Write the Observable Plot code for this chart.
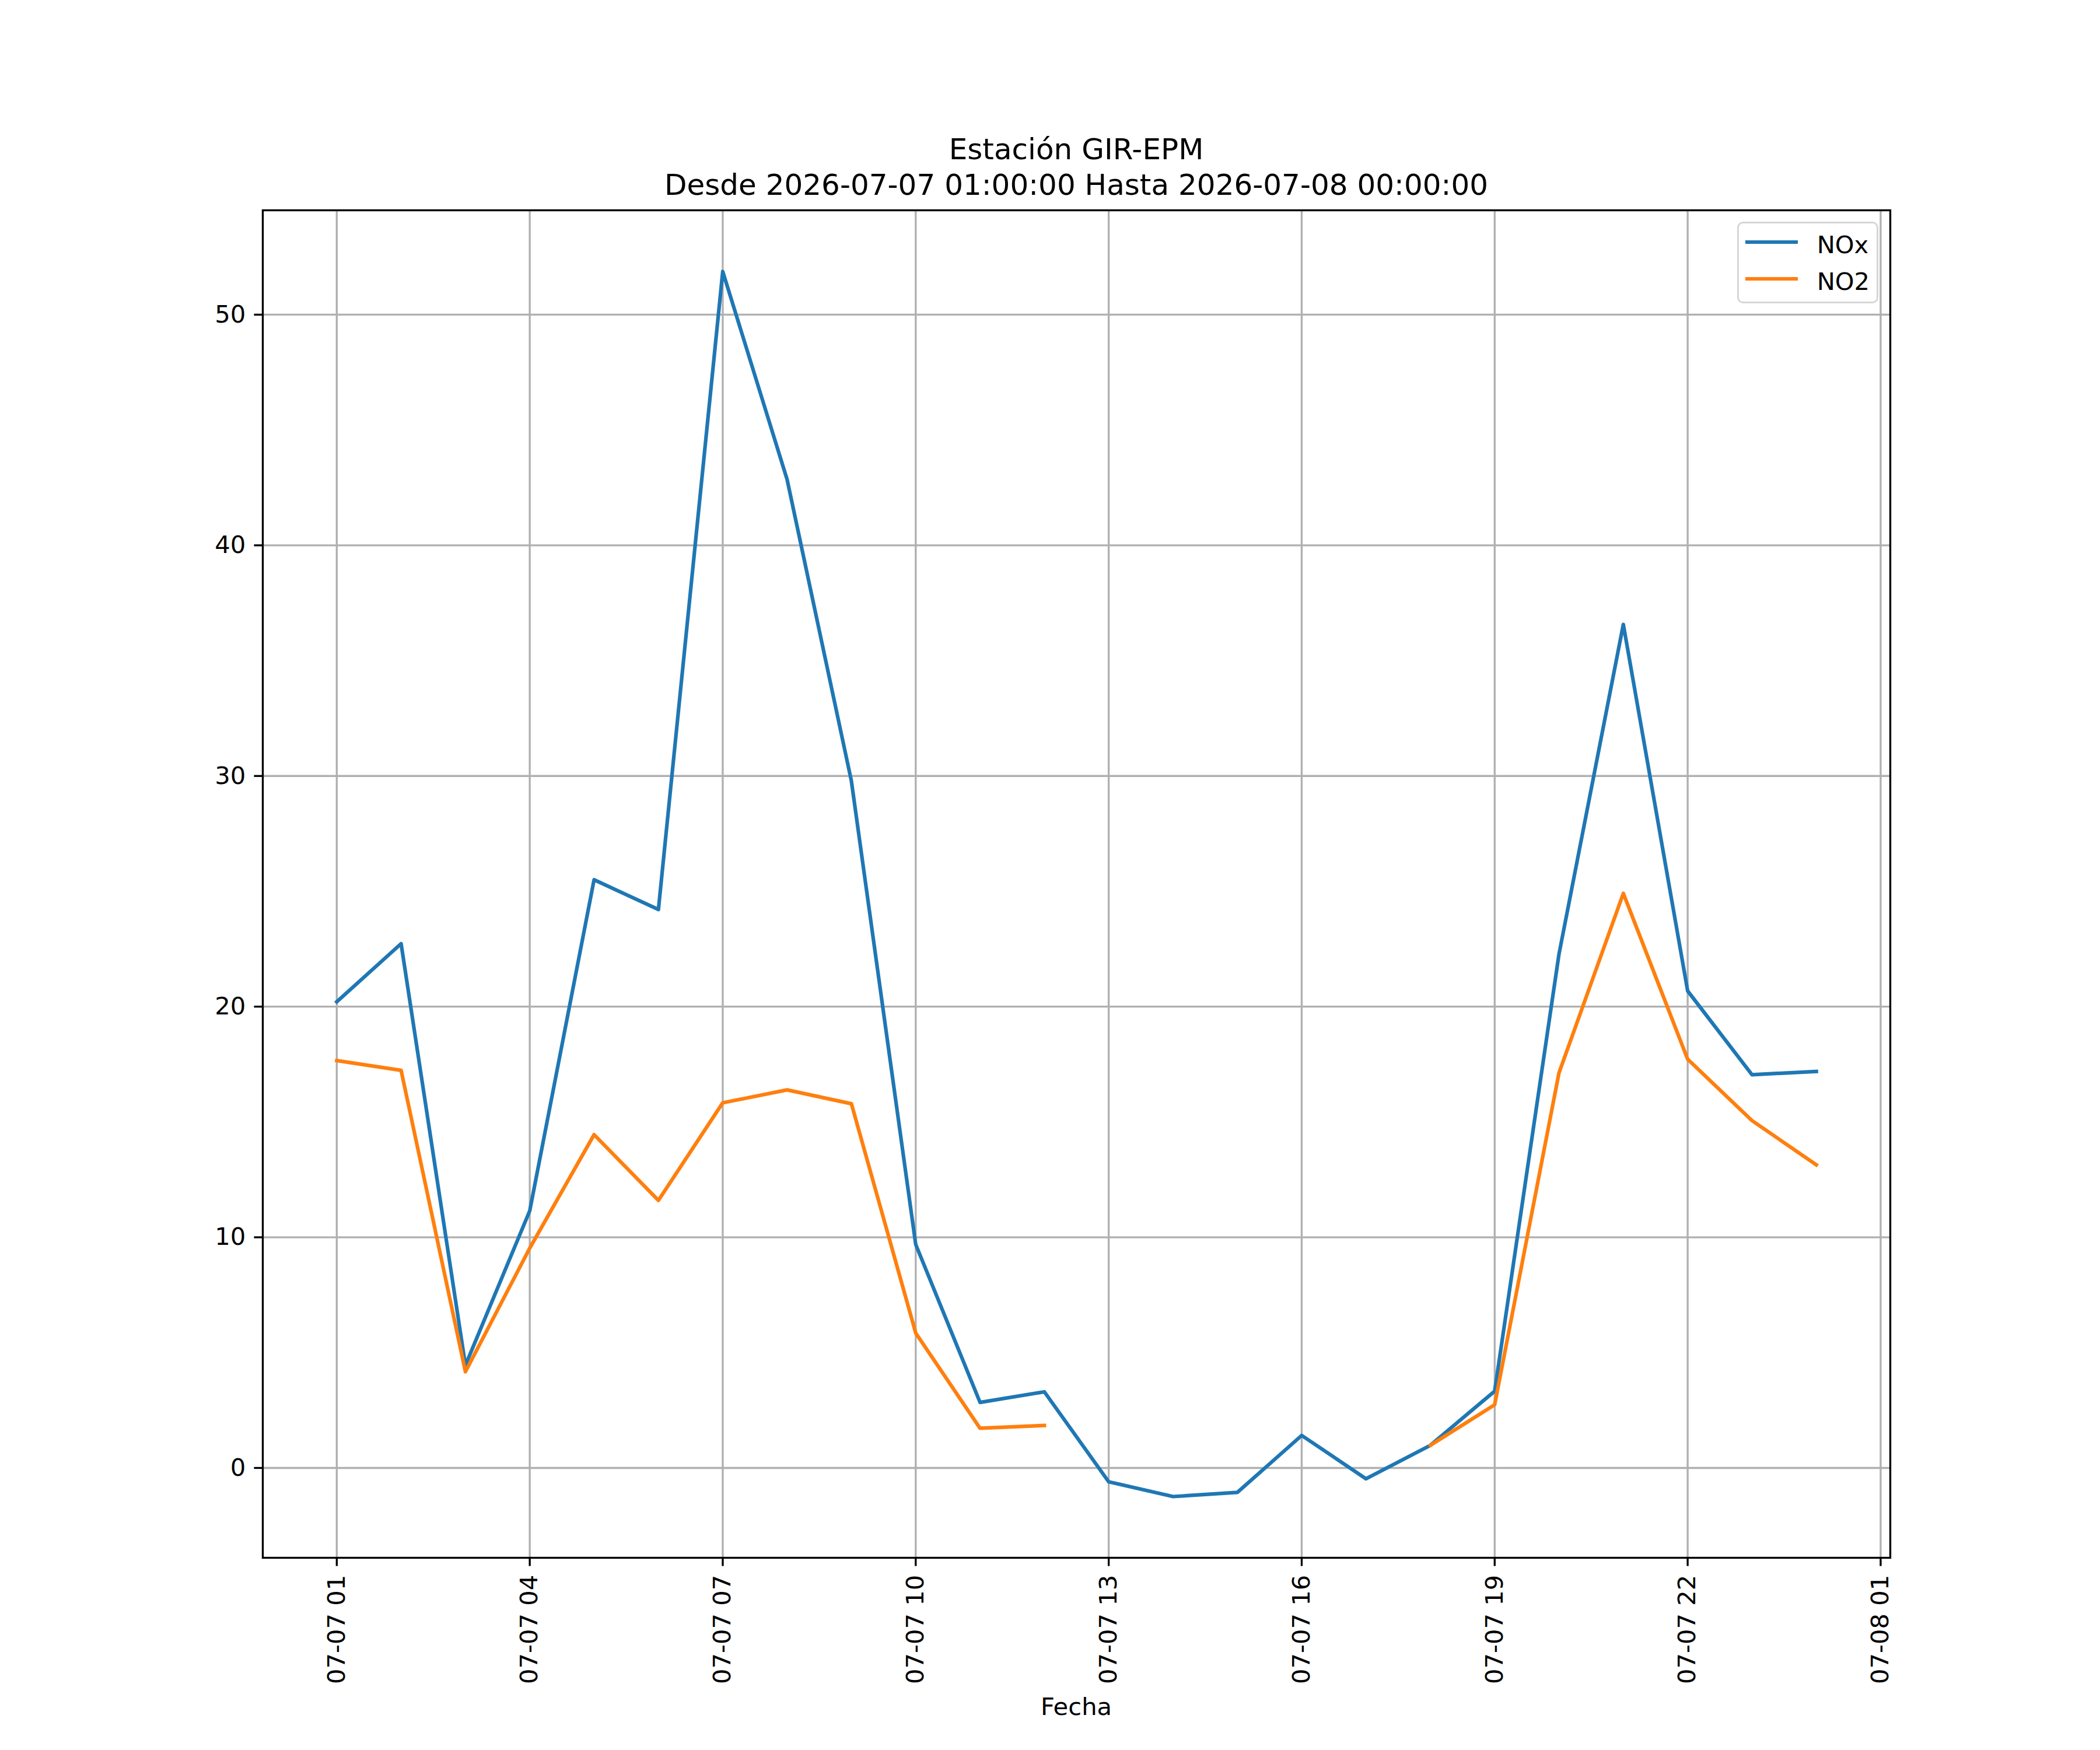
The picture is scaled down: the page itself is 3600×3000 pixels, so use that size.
<!DOCTYPE html>
<html>
<head>
<meta charset="utf-8">
<script src="https://cdn.jsdelivr.net/npm/d3@7"></script>
<script src="https://cdn.jsdelivr.net/npm/@observablehq/plot@0.6"></script>
<style>
html, body { margin: 0; padding: 0; background: #fff; }
body { position: relative; width: 3600px; height: 3000px; font-family: "DejaVu Sans", sans-serif; color: #000; overflow: hidden; }
#title { box-sizing: border-box; height: 348px; padding-top: 226px; margin-left: 450px; width: 2790px; text-align: center; font-size: 50px; line-height: 61px; white-space: pre; }
#chart svg { display: block; }
.abs { position: absolute; }
#xlabel { left: 450px; width: 2790px; top: 2896px; text-align: center; font-size: 41.67px; line-height: 60px; }
#legend { box-sizing: border-box; left: 2978px; top: 380px; width: 242px; height: 140px; border: 3.33px solid #d6d6d6; border-radius: 10px; background: rgba(255,255,255,0.8); }
.lg-line { position: absolute; height: 6.25px; width: 90px; }
.lg-text { position: absolute; font-size: 41.67px; line-height: 60px; height: 60px; white-space: pre; }
</style>
</head>
<body>
<div id="title"></div>
<div id="chart"></div>
<div id="xlabel" class="abs"></div>
<div id="legend" class="abs"></div>
<script>
// ---- data ----
const titleLines = ["Estación GIR-EPM", "Desde 2026-07-07 01:00:00 Hasta 2026-07-08 00:00:00"];
const xLabel = "Fecha";
const fechas = [
  "2026-07-07T01:00:00Z", "2026-07-07T02:00:00Z", "2026-07-07T03:00:00Z", "2026-07-07T04:00:00Z",
  "2026-07-07T05:00:00Z", "2026-07-07T06:00:00Z", "2026-07-07T07:00:00Z", "2026-07-07T08:00:00Z",
  "2026-07-07T09:00:00Z", "2026-07-07T10:00:00Z", "2026-07-07T11:00:00Z", "2026-07-07T12:00:00Z",
  "2026-07-07T13:00:00Z", "2026-07-07T14:00:00Z", "2026-07-07T15:00:00Z", "2026-07-07T16:00:00Z",
  "2026-07-07T17:00:00Z", "2026-07-07T18:00:00Z", "2026-07-07T19:00:00Z", "2026-07-07T20:00:00Z",
  "2026-07-07T21:00:00Z", "2026-07-07T22:00:00Z", "2026-07-07T23:00:00Z", "2026-07-08T00:00:00Z"
];
const nox = [20.21, 22.73, 4.45, 11.15, 25.50, 24.21, 51.87, 42.86, 29.78, 9.69, 2.84, 3.30,
             -0.60, -1.24, -1.06, 1.41, -0.47, 0.98, 3.33, 22.28, 36.57, 20.68, 17.05, 17.19];
const no2 = [17.66, 17.24, 4.17, 9.53, 14.45, 11.60, 15.83, 16.39, 15.79, 5.85, 1.72, 1.84,
             null, null, null, null, null, 0.98, 2.74, 17.13, 24.91, 17.72, 15.06, 13.14];
const seriesNames = ["NOx", "NO2"];
const seriesColors = ["#1f77b4", "#ff7f0e"];
const xTicks = [
  "2026-07-07T01:00:00Z", "2026-07-07T04:00:00Z", "2026-07-07T07:00:00Z", "2026-07-07T10:00:00Z",
  "2026-07-07T13:00:00Z", "2026-07-07T16:00:00Z", "2026-07-07T19:00:00Z", "2026-07-07T22:00:00Z",
  "2026-07-08T01:00:00Z"
];
const yTicks = [0, 10, 20, 30, 40, 50];

// ---- build ----
const seriesValues = [nox, no2];
const rows = [];
seriesNames.forEach((name, s) => {
  fechas.forEach((f, i) => rows.push({fecha: new Date(f), valor: seriesValues[s][i], serie: name}));
});
const tickDates = xTicks.map(t => new Date(t));

const x0 = new Date(fechas[0]), x1 = new Date(fechas[fechas.length - 1]);
const span = x1 - x0;
const xDomain = [new Date(+x0 - 0.05 * span), new Date(+x1 + 0.05 * span)];
const allY = rows.map(r => r.valor).filter(v => v != null);
const yMin = d3.min(allY), yMax = d3.max(allY), yr = yMax - yMin;
const yDomain = [yMin - 0.05 * yr, yMax + 0.05 * yr];

const LW = 3.33, TICK = 14.58, FS = 41.67;

const chart = Plot.plot({
  width: 3600,
  height: 2652,
  marginLeft: 450,
  marginRight: 360,
  marginTop: 12,
  marginBottom: 330,
  style: {fontFamily: '"DejaVu Sans", sans-serif', fontSize: FS + "px", color: "black", background: "white", overflow: "visible"},
  x: {type: "utc", domain: xDomain},
  y: {type: "linear", domain: yDomain},
  color: {domain: seriesNames, range: seriesColors},
  marks: [
    Plot.gridX(tickDates, {stroke: "#b0b0b0", strokeOpacity: 1, strokeWidth: LW}),
    Plot.gridY(yTicks, {stroke: "#b0b0b0", strokeOpacity: 1, strokeWidth: LW}),
    Plot.line(rows, {x: "fecha", y: "valor", z: "serie", stroke: "serie", strokeWidth: 6.25, strokeLinejoin: "round", strokeLinecap: "square"}),
    Plot.frame({stroke: "black", strokeWidth: LW}),
    Plot.axisX(tickDates, {tickFormat: d3.utcFormat("%m-%d %H"), tickRotate: -90, tickSize: TICK, tickPadding: TICK, strokeWidth: LW, fontSize: FS, label: null}),
    Plot.axisY(yTicks, {tickSize: TICK, tickPadding: TICK, strokeWidth: LW, fontSize: FS, label: null})
  ]
});
document.getElementById("chart").appendChild(chart);

document.getElementById("title").textContent = titleLines.join("\n");
document.getElementById("xlabel").textContent = xLabel;

// legend (page coordinates; legend box top-left at 2978,380)
const legend = document.getElementById("legend");
const rowY = [415, 478];
seriesNames.forEach((name, i) => {
  const ln = document.createElement("div");
  ln.className = "lg-line";
  ln.style.left = (2992 - 2978 - LW) + "px";
  ln.style.top = (rowY[i] - 380 - LW - 3.125) + "px";
  ln.style.background = seriesColors[i];
  legend.appendChild(ln);
  const tx = document.createElement("div");
  tx.className = "lg-text";
  tx.style.left = (3115 - 2978 - LW) + "px";
  tx.style.top = (rowY[i] - 380 - LW - 24.4) + "px";
  tx.textContent = name;
  legend.appendChild(tx);
});
</script>
</body>
</html>
